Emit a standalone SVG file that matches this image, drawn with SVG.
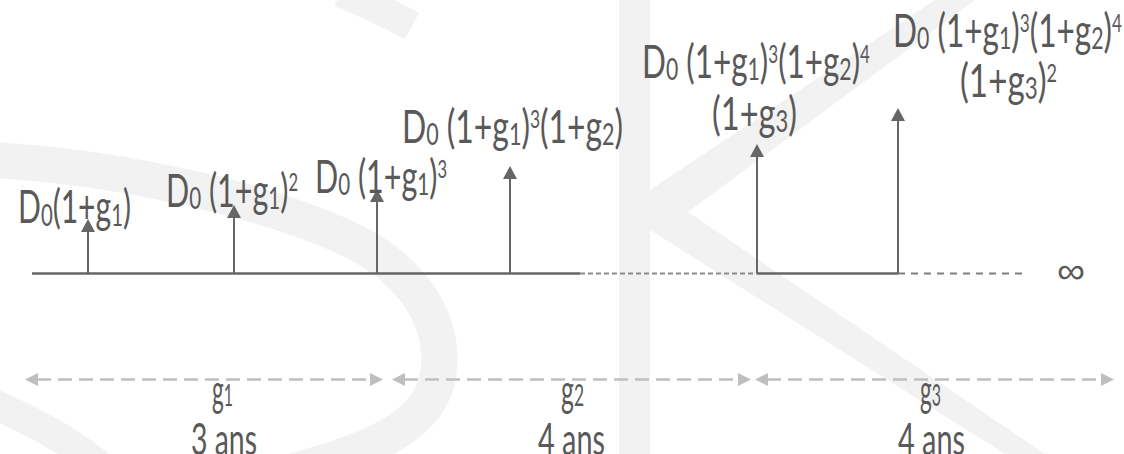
<svg xmlns="http://www.w3.org/2000/svg" width="1124" height="454" viewBox="0 0 1124 454">
<style>
.wm{fill:none;stroke:#f2f2f2}
.wmf{fill:#f2f2f2}
.lbl{font-family:Lato,"Liberation Sans",sans-serif;font-size:46px;fill:#595959}
.bl{font-family:Lato,"Liberation Sans",sans-serif;font-size:44px;fill:#595959}
.sub{font-size:31px}
.sup{font-size:25px}
.axis{stroke:#666;stroke-width:2.5;fill:none}
.axd1{stroke:#8c8c8c;stroke-width:2;stroke-dasharray:5 3;fill:none}
.axd2{stroke:#7f7f7f;stroke-width:2;stroke-dasharray:7 6;fill:none}
.up{stroke:#666;stroke-width:2;fill:none;marker-end:url(#ah)}
.span{stroke:#bfbfbf;stroke-width:2.5;stroke-dasharray:14 7;fill:none;marker-start:url(#ahl);marker-end:url(#ahl)}
</style>
<defs>
<marker id="ah" viewBox="0 0 13 14" refX="1" refY="7" markerWidth="13" markerHeight="14" markerUnits="userSpaceOnUse" orient="auto">
<path d="M0,0 L13,7 L0,14 Z" fill="#666"/>
</marker>
<marker id="ahl" viewBox="0 0 13 13" refX="1" refY="6.5" markerWidth="13" markerHeight="13" markerUnits="userSpaceOnUse" orient="auto-start-reverse">
<path d="M0,0 L13,6.5 L0,13 Z" fill="#bfbfbf"/>
</marker>
</defs>
<rect width="1124" height="454" fill="#fff"/>
<g id="watermark">
<path class="wm" stroke-width="30" d="M340,-8 C365,2 390,14 412,26"/>
<path class="wm" stroke-width="36" d="M-10,160 C100,165 250,195 340,235 C420,270 450,330 436,385 C422,428 372,450 290,472"/>
<path class="wm" stroke-width="30" d="M-15,400 C30,420 70,440 105,470"/>
<rect class="wmf" x="619" y="0" width="31" height="454"/>
<polygon class="wmf" points="650,190 935,0 975,0 688,212 1045,454 1005,454 650,230"/>
</g>
<g id="connectors">
<line class="axis" x1="32" y1="273.5" x2="580" y2="273.5"/>
<line class="axd1" x1="580" y1="273.5" x2="757" y2="273.5"/>
<line class="axis" x1="757" y1="273.5" x2="898" y2="273.5"/>
<line class="axd2" x1="898" y1="273.5" x2="1028" y2="273.5"/>
<line class="up" x1="88" y1="273" x2="88" y2="231"/>
<line class="up" x1="234" y1="273" x2="234" y2="217"/>
<line class="up" x1="377" y1="273" x2="377" y2="201"/>
<line class="up" x1="510" y1="273" x2="510" y2="178"/>
<line class="up" x1="757" y1="273" x2="757" y2="156"/>
<line class="up" x1="898" y1="273" x2="898" y2="120"/>
<line class="span" x1="37" y1="379.5" x2="371" y2="379.5"/>
<line class="span" x1="404" y1="379.5" x2="739" y2="379.5"/>
<line class="span" x1="767" y1="379.5" x2="1102" y2="379.5"/>
</g>
<g id="n1"><text class="lbl" x="18" y="223" textLength="113" lengthAdjust="spacingAndGlyphs">D<tspan class="sub" dy="3">0</tspan><tspan dy="-3">(1+g</tspan><tspan class="sub" dy="3">1</tspan><tspan dy="-3">)</tspan></text></g>
<g id="n2"><text class="lbl" x="166" y="207" textLength="132" lengthAdjust="spacingAndGlyphs">D<tspan class="sub" dy="2">0</tspan><tspan dy="-2"> (1+g</tspan><tspan class="sub" dy="2">1</tspan><tspan dy="-2">)</tspan><tspan class="sup" dy="-16">2</tspan></text></g>
<g id="n3"><text class="lbl" x="315" y="193" textLength="132" lengthAdjust="spacingAndGlyphs">D<tspan class="sub" dy="2">0</tspan><tspan dy="-2"> (1+g</tspan><tspan class="sub" dy="2">1</tspan><tspan dy="-2">)</tspan><tspan class="sup" dy="-15">3</tspan></text></g>
<g id="n4"><text class="lbl" x="402" y="143" textLength="221" lengthAdjust="spacingAndGlyphs">D<tspan class="sub" dy="2">0</tspan><tspan dy="-2"> (1+g</tspan><tspan class="sub" dy="2">1</tspan><tspan dy="-2">)</tspan><tspan class="sup" dy="-15">3</tspan><tspan dy="15">(1+g</tspan><tspan class="sub" dy="2">2</tspan><tspan dy="-2">)</tspan></text></g>
<g id="n5">
<text class="lbl" x="642" y="78" textLength="228" lengthAdjust="spacingAndGlyphs">D<tspan class="sub" dy="2">0</tspan><tspan dy="-2"> (1+g</tspan><tspan class="sub" dy="2">1</tspan><tspan dy="-2">)</tspan><tspan class="sup" dy="-15">3</tspan><tspan dy="15">(1+g</tspan><tspan class="sub" dy="2">2</tspan><tspan dy="-2">)</tspan><tspan class="sup" dy="-15">4</tspan></text>
<text class="lbl" x="712" y="130" textLength="85" lengthAdjust="spacingAndGlyphs">(1+g<tspan class="sub" dy="2">3</tspan><tspan dy="-2">)</tspan></text>
</g>
<g id="n6">
<text class="lbl" x="893" y="47" textLength="229" lengthAdjust="spacingAndGlyphs">D<tspan class="sub" dy="2">0</tspan><tspan dy="-2"> (1+g</tspan><tspan class="sub" dy="2">1</tspan><tspan dy="-2">)</tspan><tspan class="sup" dy="-15">3</tspan><tspan dy="15">(1+g</tspan><tspan class="sub" dy="2">2</tspan><tspan dy="-2">)</tspan><tspan class="sup" dy="-15">4</tspan></text>
<text class="lbl" x="960" y="97" textLength="97" lengthAdjust="spacingAndGlyphs">(1+g<tspan class="sub" dy="2">3</tspan><tspan dy="-2">)</tspan><tspan class="sup" dy="-15">2</tspan></text>
</g>
<g id="inf"><text x="1057" y="283" textLength="28" lengthAdjust="spacingAndGlyphs" style="font-family:'Liberation Sans',sans-serif;font-size:36px;fill:#595959">∞</text></g>
<g id="p1">
<text class="bl" x="212" y="406" textLength="21" lengthAdjust="spacingAndGlyphs">g<tspan class="sub">1</tspan></text>
<text class="bl" x="191" y="455" textLength="66" lengthAdjust="spacingAndGlyphs">3 ans</text>
</g>
<g id="p2">
<text class="bl" x="561" y="406" textLength="23" lengthAdjust="spacingAndGlyphs">g<tspan class="sub">2</tspan></text>
<text class="bl" x="538" y="455" textLength="67" lengthAdjust="spacingAndGlyphs">4 ans</text>
</g>
<g id="p3">
<text class="bl" x="920" y="406" textLength="21" lengthAdjust="spacingAndGlyphs">g<tspan class="sub">3</tspan></text>
<text class="bl" x="898" y="455" textLength="67" lengthAdjust="spacingAndGlyphs">4 ans</text>
</g>
</svg>
